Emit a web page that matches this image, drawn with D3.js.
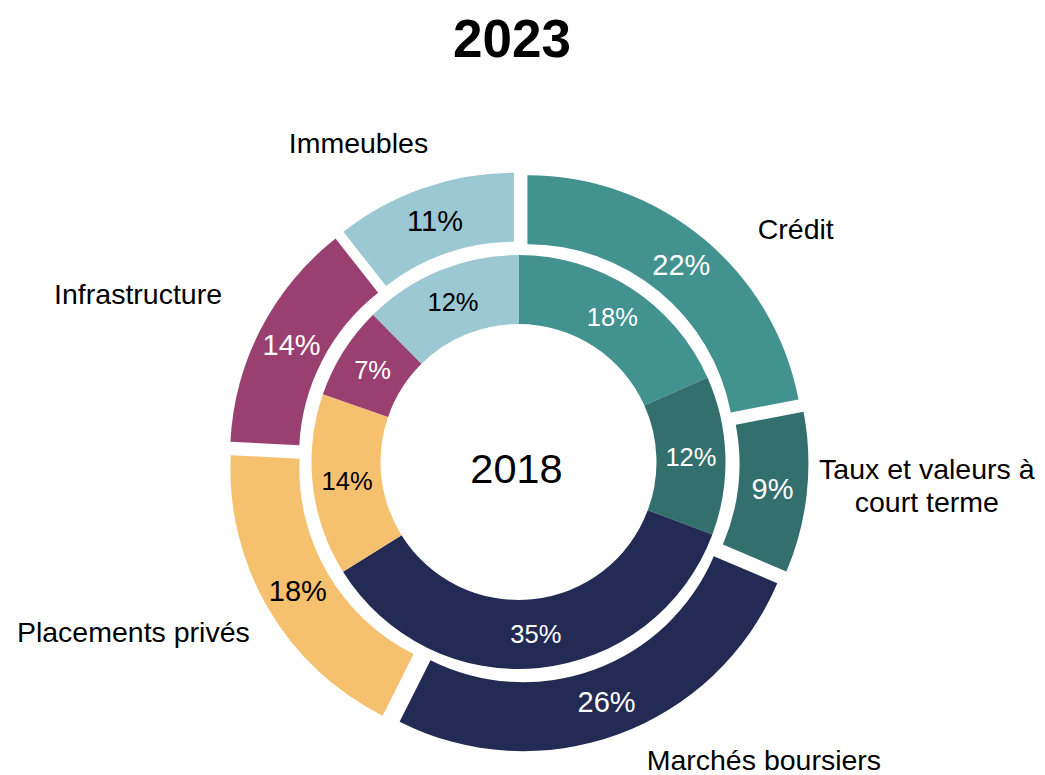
<!DOCTYPE html>
<meta charset="utf-8">
<style>
body { margin: 0; background: #fff; }
text { font-family: "Liberation Sans", Arial, sans-serif; }
</style>
<svg width="1045" height="775"></svg>
<script src="https://d3js.org/d3.v7.min.js"></script>
<script>

// categories, clockwise from 12 o'clock
var categories = ["Crédit", "Taux et valeurs à|court terme", "Marchés boursiers", "Placements privés", "Infrastructure", "Immeubles"];
var values2023 = [22.0, 9.4, 26.0, 18.4, 13.6, 10.6];   // outer ring
var values2018 = [18.3, 12.4, 35.4, 14.2, 7.3, 12.4];   // inner ring
var colors = ["#42928f", "#336f6d", "#232b55", "#f6c16f", "#9a4070", "#9bc8d3"];
var labelInk = ["#fff", "#fff", "#fff", "#000", "#fff", "#000"];

var svg = d3.select("svg"),
    cx = 518.5, cy = 462,
    hole = 138, ring = 69, explode = 14;

var pie = d3.pie().sort(null).value(function(d) { return d; });

var innerArc = d3.arc().innerRadius(hole).outerRadius(hole + ring);
var outerArc = d3.arc().innerRadius(hole + ring).outerRadius(hole + 2 * ring);

function mid(d) { return (d.startAngle + d.endAngle) / 2; }

var g = svg.append("g").attr("transform", "translate(" + cx + "," + cy + ")");

// title
svg.append("text")
    .attr("x", 512).attr("y", 38)
    .attr("text-anchor", "middle")
    .attr("dominant-baseline", "central")
    .style("font-size", "53px").style("font-weight", "bold")
    .text("2023");

// inner ring 2018
var inner = g.selectAll(".inner")
    .data(pie(values2018))
    .enter().append("g").attr("class", "inner");

inner.append("path")
    .attr("d", innerArc)
    .attr("fill", function(d, i) { return colors[i]; });

inner.append("text")
    .attr("transform", function(d) { return "translate(" + innerArc.centroid(d) + ")"; })
    .attr("text-anchor", "middle")
    .attr("dominant-baseline", "central")
    .style("font-size", "25.5px")
    .attr("fill", function(d, i) { return labelInk[i]; })
    .text(function(d) { return Math.round(d.data) + "%"; });

// outer ring 2023, each slice pushed out a bit
var outer = g.selectAll(".outer")
    .data(pie(values2023))
    .enter().append("g").attr("class", "outer")
    .attr("transform", function(d) {
      var a = mid(d);
      return "translate(" + (Math.sin(a) * explode) + "," + (-Math.cos(a) * explode) + ")";
    });

outer.append("path")
    .attr("d", outerArc)
    .attr("fill", function(d, i) { return colors[i]; });

outer.append("text")
    .attr("transform", function(d) { return "translate(" + outerArc.centroid(d) + ")"; })
    .attr("text-anchor", "middle")
    .attr("dominant-baseline", "central")
    .style("font-size", "29px")
    .attr("fill", function(d, i) { return labelInk[i]; })
    .text(function(d) { return Math.round(d.data) + "%"; });

// centre label
g.append("text")
    .attr("x", -2).attr("y", 6)
    .attr("text-anchor", "middle")
    .attr("dominant-baseline", "central")
    .style("font-size", "41.5px")
    .text("2018");

// category labels: placed off the slice middle, then nudged like the original
var labelR = 300;
var nudge = [[86, -2], [110, -8], [142, 16], [-126, 19], [-114, -30], [-62, -35]];

var cat = g.selectAll(".cat")
    .data(pie(values2023))
    .enter().append("text")
    .attr("class", "cat")
    .attr("text-anchor", "middle")
    .style("font-size", "28.5px")
    .attr("transform", function(d, i) {
      var a = mid(d);
      return "translate(" + (Math.sin(a) * labelR + nudge[i][0]) + "," + (-Math.cos(a) * labelR + nudge[i][1]) + ")";
    });

cat.each(function(d, i) {
  var lines = categories[i].split("|"),
      t = d3.select(this),
      lh = 33;
  lines.forEach(function(s, k) {
    t.append("tspan")
      .attr("x", 0)
      .attr("y", (k - (lines.length - 1) / 2) * lh)
      .attr("dominant-baseline", "central")
      .text(s);
  });
});

</script>
